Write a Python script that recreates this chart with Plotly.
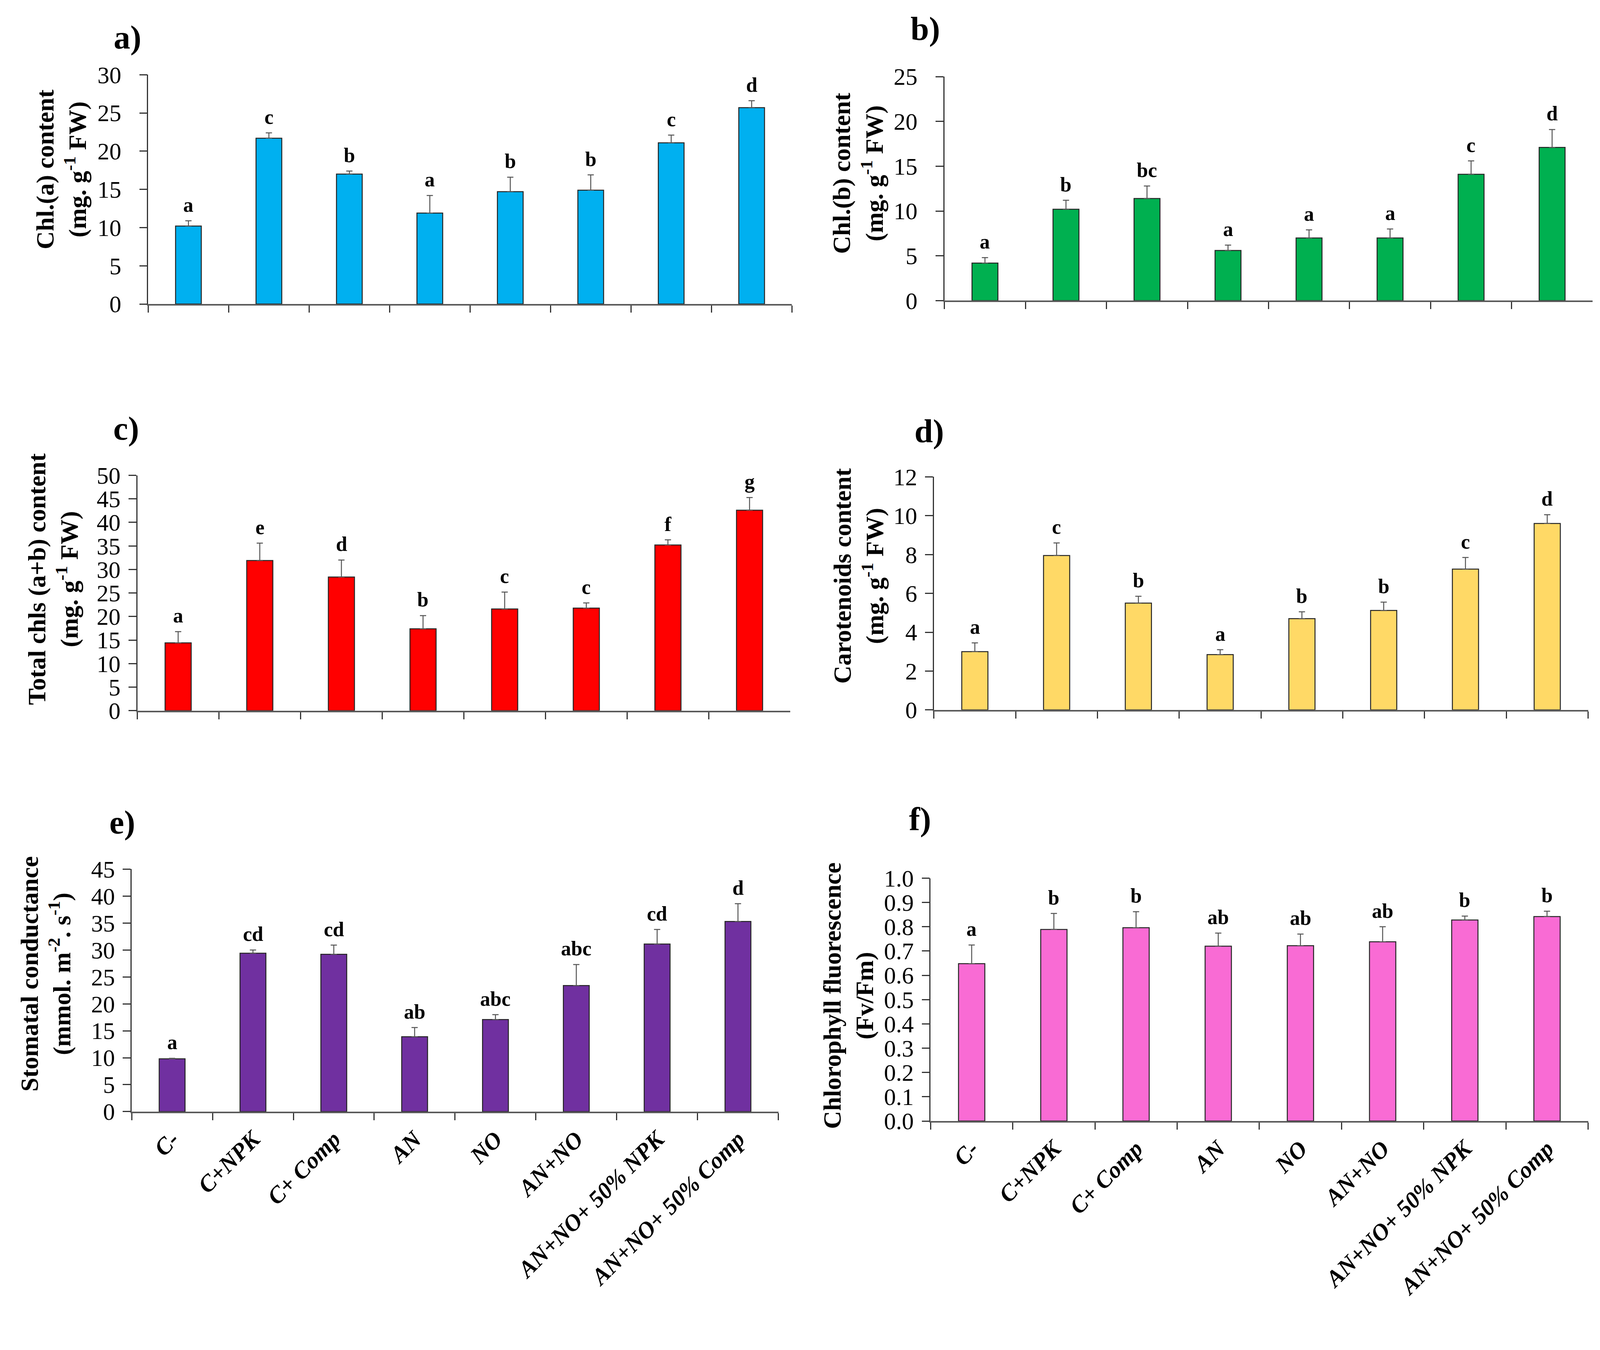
import plotly.graph_objects as go

# ---------------- data ----------------
categories = ["C-", "C+NPK", "C+ Comp", "AN", "NO", "AN+NO",
              "AN+NO+ 50% NPK", "AN+NO+ 50% Comp"]

chl_a = [10.2, 21.7, 17.0, 11.9, 14.7, 14.9, 21.1, 25.7]
chl_a_err = [0.7, 0.7, 0.4, 2.3, 1.9, 2.0, 1.0, 0.9]
chl_a_letters = ["a", "c", "b", "a", "b", "b", "c", "d"]

chl_b = [4.2, 10.2, 11.4, 5.6, 7.0, 7.0, 14.1, 17.1]
chl_b_err = [0.6, 1.0, 1.4, 0.6, 0.9, 1.0, 1.5, 2.0]
chl_b_letters = ["a", "b", "bc", "a", "a", "a", "c", "d"]

total_chl = [14.4, 31.9, 28.4, 17.4, 21.6, 21.8, 35.2, 42.6]
total_chl_err = [2.4, 3.7, 3.6, 2.8, 3.6, 1.1, 1.1, 2.7]
total_chl_letters = ["a", "e", "d", "b", "c", "c", "f", "g"]

carotenoids = [3.0, 7.95, 5.5, 2.85, 4.7, 5.12, 7.25, 9.6]
carotenoids_err = [0.45, 0.65, 0.35, 0.25, 0.35, 0.43, 0.6, 0.45]
carotenoids_letters = ["a", "c", "b", "a", "b", "b", "c", "d"]

stomatal = [9.8, 29.4, 29.2, 13.9, 17.1, 23.4, 31.1, 35.3]
stomatal_err = [0.1, 0.6, 1.7, 1.7, 0.9, 3.9, 2.7, 3.3]
stomatal_letters = ["a", "cd", "cd", "ab", "abc", "abc", "cd", "d"]

fluorescence = [0.648, 0.789, 0.796, 0.720, 0.722, 0.738, 0.828, 0.842]
fluorescence_err = [0.077, 0.066, 0.066, 0.054, 0.048, 0.062, 0.016, 0.022]
fluorescence_letters = ["a", "b", "b", "ab", "ab", "ab", "b", "b"]

panel_tags = ["a)", "b)", "c)", "d)", "e)", "f)"]
y_titles = [
    "Chl.(a) content<br>(mg. g<sup>-1</sup> FW)",
    "Chl.(b) content<br>(mg. g<sup>-1</sup> FW)",
    "Total chls (a+b) content<br>(mg. g<sup>-1</sup> FW)",
    "Carotenoids content<br>(mg. g<sup>-1</sup> FW)",
    "Stomatal conductance<br>(mmol. m<sup>-2</sup>. s<sup>-1</sup>)",
    "Chlorophyll fluorescence<br>(Fv/Fm)",
]
y_max = [30, 25, 50, 12, 45, 1.0]
y_dtick = [5, 5, 5, 2, 5, 0.1]

# ---------------- styling / layout ----------------
W, H = 4262, 3455
FONT = "Liberation Serif"
colors = ["#00B0F0", "#00B050", "#FF0000", "#FFD966", "#7030A0", "#F96BD4"]

values = [chl_a, chl_b, total_chl, carotenoids, stomatal, fluorescence]
errors = [chl_a_err, chl_b_err, total_chl_err, carotenoids_err, stomatal_err, fluorescence_err]
letters = [chl_a_letters, chl_b_letters, total_chl_letters, carotenoids_letters,
           stomatal_letters, fluorescence_letters]

# the page is shown slightly enlarged/shifted in the capture: map target
# picture pixels to figure pixels
SX, SY, OY = 1.042, 1.0177, 45.0


def fx(px):
    return px / SX


def fy(py):
    return (py - OY) / SY


# target picture-pixel boxes of each plot area: (left, right, top, bottom)
boxes = [
    (387, 2104, 201, 810),
    (2511, 4240, 206, 801),
    (358, 2100, 1265, 1890),
    (2483, 4228, 1269, 1888),
    (343, 2068, 2311, 2955),
    (2474, 4228, 2335, 2980),
]
tag_pos = [(332, 102), (2460, 79), (328, 1140), (2471, 1148), (318, 2187), (2446, 2178)]
title_pos = [(155, 452), (2280, 463), (133, 1540), (2282, 1532), (114, 2589), (2255, 2647)]
label_gap = [34, 34, 8, 8, 8, 8]

fig = go.Figure()
annotations = []

for i in range(6):
    xa = "x" if i == 0 else f"x{i+1}"
    ya = "y" if i == 0 else f"y{i+1}"
    fig.add_trace(go.Bar(
        x=categories, y=values[i],
        xaxis=xa, yaxis=ya,
        width=0.32,
        marker=dict(color=colors[i], line=dict(color="#262626", width=2.5)),
        error_y=dict(type="data", array=errors[i], arrayminus=[0] * len(values[i]),
                     symmetric=False, color="#555555", thickness=2.5, width=8),
        showlegend=False,
    ))
    for c, v, e, t in zip(categories, values[i], errors[i], letters[i]):
        annotations.append(dict(
            x=c, y=v + e, xref=xa, yref=ya, text=t, showarrow=False,
            yanchor="bottom", xanchor="center", yshift=10,
            font=dict(family=FONT, size=52, color="black", weight="bold"),
        ))

    l, r, t_, b = boxes[i]
    xdom = [fx(l) / W, fx(r) / W]
    ydom = [1 - fy(b) / H, 1 - fy(t_) / H]
    xkey = "xaxis" if i == 0 else f"xaxis{i+1}"
    ykey = "yaxis" if i == 0 else f"yaxis{i+1}"
    bottom_row = i >= 4
    fig.update_layout(**{
        xkey: dict(
            domain=xdom, anchor=ya, type="category",
            categoryorder="array", categoryarray=categories,
            range=[-0.5, 7.5],
            showline=True, linecolor="#5a5a5a", linewidth=3.5,
            ticks="outside", tickson="boundaries", ticklen=18,
            tickcolor="#333333", tickwidth=2.5,
            showgrid=False, zeroline=False,
            showticklabels=bottom_row, tickangle=-45,
            ticklabelstandoff=8,
            tickfont=dict(family=FONT, size=60, color="black",
                          weight="bold", style="italic"),
        ),
        ykey: dict(
            domain=ydom, anchor=xa, range=[0, y_max[i]], dtick=y_dtick[i],
            tick0=0,
            tickformat=".1f" if i == 5 else "d",
            showline=True, linecolor="#333333", linewidth=2.5,
            ticks="outside", ticklen=20, tickcolor="#333333", tickwidth=2.5,
            showgrid=False, zeroline=False,
            ticklabelstandoff=label_gap[i],
            tickfont=dict(family=FONT, size=61, color="black"),
        ),
    })

    tx, ty = tag_pos[i]
    annotations.append(dict(
        x=fx(tx) / W, y=1 - fy(ty) / H, xref="paper", yref="paper", text=panel_tags[i],
        showarrow=False, xanchor="center", yanchor="middle",
        font=dict(family=FONT, size=85, color="black", weight="bold"),
    ))
    px_, py_ = title_pos[i]
    annotations.append(dict(
        x=fx(px_) / W, y=1 - fy(py_) / H, xref="paper", yref="paper", text=y_titles[i],
        showarrow=False, xanchor="center", yanchor="middle", textangle=-90,
        font=dict(family=FONT, size=64, color="black", weight="bold"),
    ))

fig.update_layout(
    width=W, height=H,
    margin=dict(l=0, r=0, t=0, b=0),
    paper_bgcolor="white", plot_bgcolor="white",
    annotations=annotations,
)

fig.write_html("out.html")
